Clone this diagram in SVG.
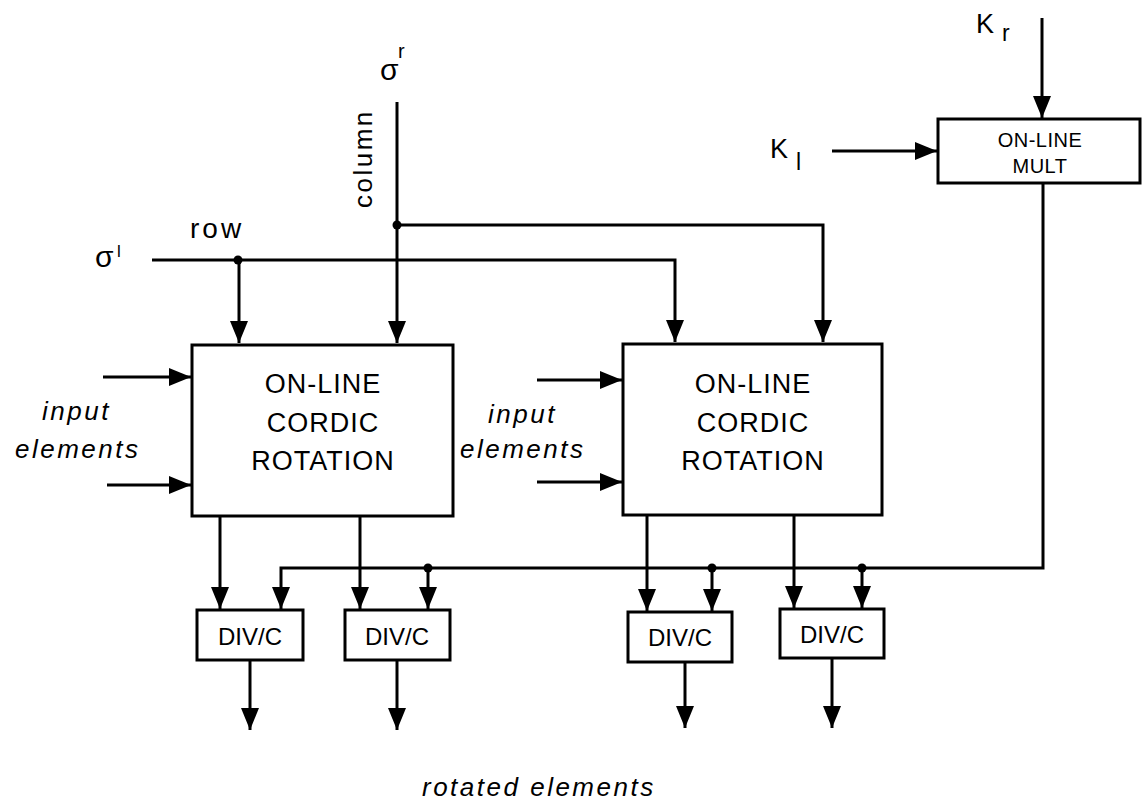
<svg xmlns="http://www.w3.org/2000/svg" width="1145" height="804" viewBox="0 0 1145 804">
<style>
.ln{fill:none;stroke:#000;stroke-width:3}
.bx{fill:#fff;stroke:#000;stroke-width:3}
.t{font-family:"Liberation Sans",Arial,sans-serif;fill:#000}
.big{font-size:27px;letter-spacing:1px;text-anchor:middle}
.div{font-size:24px;text-anchor:middle}
.it{font-style:italic;font-size:26px;letter-spacing:2.5px}
</style>
<defs>
<marker id="ah" markerUnits="userSpaceOnUse" markerWidth="22" markerHeight="18" refX="22" refY="9" orient="auto">
<path d="M0,0 L22,9 L0,18 z" fill="#000"/>
</marker>
</defs>
<g id="connectors">
<path class="ln" d="M397,102 V343" marker-end="url(#ah)"/>
<path class="ln" d="M397,225 H823 V342" marker-end="url(#ah)"/>
<path class="ln" d="M152,260 H675 V342" marker-end="url(#ah)"/>
<path class="ln" d="M239,260 V343" marker-end="url(#ah)"/>
<path class="ln" d="M103,377 H191" marker-end="url(#ah)"/>
<path class="ln" d="M107,485 H191" marker-end="url(#ah)"/>
<path class="ln" d="M537,380 H622" marker-end="url(#ah)"/>
<path class="ln" d="M537,482 H622" marker-end="url(#ah)"/>
<path class="ln" d="M1042,18 V118" marker-end="url(#ah)"/>
<path class="ln" d="M832,151 H937" marker-end="url(#ah)"/>
<path class="ln" d="M1043,183 V568 H281 V609" marker-end="url(#ah)"/>
<path class="ln" d="M220,516 V609" marker-end="url(#ah)"/>
<path class="ln" d="M360,516 V609" marker-end="url(#ah)"/>
<path class="ln" d="M428,568 V609" marker-end="url(#ah)"/>
<path class="ln" d="M647,515 V611" marker-end="url(#ah)"/>
<path class="ln" d="M712,568 V611" marker-end="url(#ah)"/>
<path class="ln" d="M794,515 V608" marker-end="url(#ah)"/>
<path class="ln" d="M862,568 V608" marker-end="url(#ah)"/>
<path class="ln" d="M250,660 V730" marker-end="url(#ah)"/>
<path class="ln" d="M397,660 V730" marker-end="url(#ah)"/>
<path class="ln" d="M685,662 V728" marker-end="url(#ah)"/>
<path class="ln" d="M832,658 V728" marker-end="url(#ah)"/>
<circle cx="397" cy="225" r="4.5"/>
<circle cx="238" cy="260" r="4.5"/>
<circle cx="428" cy="568" r="4.5"/>
<circle cx="712" cy="568" r="4.5"/>
<circle cx="862" cy="568" r="4.5"/>
</g>
<g id="labels">
<text class="t" x="380" y="80" font-size="30">σ</text>
<text class="t" x="398" y="58" font-size="20">r</text>
<text class="t" x="95" y="267" font-size="30">σ</text>
<text class="t" x="117" y="257" font-size="17">l</text>
<text class="t" transform="translate(372,208) rotate(-90)" font-size="26" letter-spacing="2.5">column</text>
<text class="t" x="190" y="238" font-size="28" letter-spacing="3">row</text>
<text class="t it" x="42" y="420">input</text>
<text class="t it" x="15" y="458">elements</text>
<text class="t it" x="488" y="423">input</text>
<text class="t it" x="460" y="458">elements</text>
<text class="t" x="976" y="33" font-size="27">K</text>
<text class="t" x="1002" y="41" font-size="23">r</text>
<text class="t" x="770" y="158" font-size="27">K</text>
<text class="t" x="796" y="170" font-size="23">l</text>
<text class="t it" x="422" y="796" font-size="27">rotated  elements</text>
</g>
<g id="cordic1">
<rect class="bx" x="192" y="345" width="261" height="171"/>
<text class="t big" x="323" y="393">ON-LINE</text>
<text class="t big" x="323" y="432">CORDIC</text>
<text class="t big" x="323" y="470">ROTATION</text>
</g>
<g id="cordic2">
<rect class="bx" x="623" y="344" width="259" height="171"/>
<text class="t big" x="753" y="393">ON-LINE</text>
<text class="t big" x="753" y="432">CORDIC</text>
<text class="t big" x="753" y="470">ROTATION</text>
</g>
<g id="mult">
<rect class="bx" x="938" y="119" width="202" height="64"/>
<text class="t" x="1040" y="147" font-size="20" letter-spacing="0.5" text-anchor="middle">ON-LINE</text>
<text class="t" x="1040" y="173" font-size="20" letter-spacing="0.5" text-anchor="middle">MULT</text>
</g>
<g id="div1">
<rect class="bx" x="197" y="610" width="106" height="50"/>
<text class="t div" x="250" y="645">DIV/C</text>
</g>
<g id="div2">
<rect class="bx" x="345" y="610" width="105" height="50"/>
<text class="t div" x="397" y="645">DIV/C</text>
</g>
<g id="div3">
<rect class="bx" x="628" y="612" width="104" height="50"/>
<text class="t div" x="680" y="646">DIV/C</text>
</g>
<g id="div4">
<rect class="bx" x="780" y="609" width="104" height="49"/>
<text class="t div" x="832" y="643">DIV/C</text>
</g>
</svg>
